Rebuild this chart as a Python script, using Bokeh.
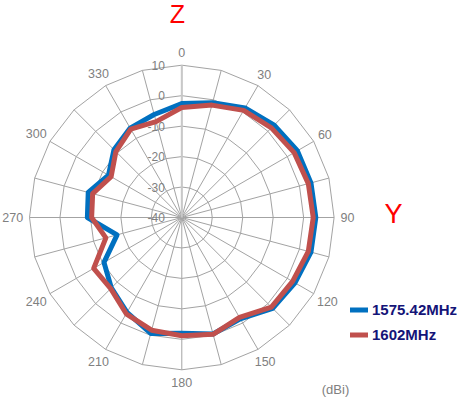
import numpy as np
from bokeh.plotting import figure
from bokeh.models import Range1d, Label, Legend, LegendItem
from bokeh.core.properties import value
from bokeh.embed import file_html
from bokeh.resources import INLINE

# ---------------- data ----------------
angles = [0, 15, 30, 45, 60, 75, 90, 105, 120, 135, 150, 165,
          180, 195, 210, 225, 240, 255, 270, 285, 300, 315, 330, 345]
gain_1575 = [-2.6, -1.0, 1.5, 2.9, 3.8, 3.9, 4.0, 3.9, 2.9, 2.2, -1.6, -0.4,
             -2.0, -0.6, -4.0, -7.3, -10.5, -18.0, -9.0, -8.2, -12.2, -8.5, -6.1, -5.0]
gain_1602 = [-3.9, -1.8, 0.6, 1.6, 2.6, 3.0, 3.15, 3.0, 2.0, 1.6, -2.1, -0.3,
             -1.2, -1.7, -3.5, -7.0, -6.6, -14.2, -10.4, -9.7, -13.2, -9.4, -6.5, -7.4]
series_names = ["1575.42MHz", "1602MHz"]
ring_values = [10, 0, -10, -20, -30]
ring_label_values = [10, 0, -10, -20, -30, -40]
ring_labels = ["10", "0", "-10", "-20", "-30", "-40"]
angle_ticks = [0, 30, 60, 90, 120, 150, 180, 210, 240, 270, 300, 330]
angle_labels = ["0", "30", "60", "90", "120", "150", "180", "210", "240", "270", "300", "330"]
R_MIN, R_MAX = -40, 10

# ---------------- layout ----------------
W, H = 457, 398
CX, CY = 181.3, 181.0          # centre of the radar, px from left / bottom
K = 152.3 / (R_MAX - R_MIN)    # px per dB

FONT_NAME = "Liberation Sans"
FONT = value(FONT_NAME)
GRID = "#a3a3a3"
TXT = "#808080"

p = figure(width=W, height=H, output_backend="svg", toolbar_location=None,
           x_range=Range1d(-CX / K, (W - CX) / K),
           y_range=Range1d(-CY / K, (H - CY) / K),
           x_axis_type=None, y_axis_type=None, min_border=0,
           outline_line_color=None)
p.background_fill_color = "white"
p.border_fill_color = "white"


def polar(vals, angs, closed=False):
    r = np.asarray(vals, dtype=float) - R_MIN
    th = np.radians(np.asarray(angs, dtype=float))
    x = r * np.sin(th)
    y = r * np.cos(th)
    if closed:
        x = np.append(x, x[0])
        y = np.append(y, y[0])
    return x, y


# rings (polygonal, Excel radar style)
ring_xs, ring_ys = [], []
for rv in ring_values:
    x, y = polar([rv] * len(angles), angles, closed=True)
    ring_xs.append(list(x))
    ring_ys.append(list(y))
p.multi_line(ring_xs, ring_ys, line_color=GRID, line_width=1)

# spokes
sx, sy = polar([R_MAX] * len(angles), angles)
p.segment(x0=[0] * len(angles), y0=[0] * len(angles), x1=sx, y1=sy,
          line_color=GRID, line_width=1)
# value axis along 0 deg
ax_x, ax_y = polar([R_MAX], [0])
p.segment(x0=[0], y0=[0], x1=ax_x, y1=ax_y, line_color="#c8c8c8", line_width=2)

# radial value labels
ly = np.asarray(ring_label_values, dtype=float) - R_MIN
p.text(x=[0] * len(ly), y=ly, text=ring_labels, x_offset=-17,
       text_align="right", text_baseline="middle",
       text_font=FONT, text_font_size="12px", text_color=TXT)

# angle labels
th = np.radians(angle_ticks)
hw = np.array([3.34 * len(s) for s in angle_labels])
r_px = 159 + hw * np.abs(np.sin(th)) + 6 * np.abs(np.cos(th)) - 3 * np.abs(np.sin(2 * th))
ax_l = r_px / K * np.sin(th)
ay_l = r_px / K * np.cos(th)
p.text(x=ax_l, y=ay_l, text=angle_labels, text_align="center", text_baseline="middle",
       text_font=FONT, text_font_size="12.5px", text_color=TXT)

# series
bx, by = polar(gain_1575, angles, closed=True)
rx, ry = polar(gain_1602, angles, closed=True)
r_blue = p.line(bx, by, line_color="#0070C0", line_width=5, line_join="round", line_cap="round")
r_red = p.line(rx, ry, line_color="#C0504D", line_width=5, line_join="round", line_cap="round")

legend = Legend(items=[LegendItem(label=series_names[0], renderers=[r_blue]),
                       LegendItem(label=series_names[1], renderers=[r_red])],
                location=(350, 53.5), orientation="vertical",
                glyph_width=18, glyph_height=21, spacing=4, padding=0, margin=0,
                label_standoff=4, label_height=21,
                label_text_font=FONT_NAME, label_text_font_size="15px",
                label_text_font_style="bold", label_text_color="#141478",
                label_text_baseline="middle",
                border_line_color=None, background_fill_alpha=0)
p.add_layout(legend)

p.add_layout(Label(x=177, y=385, x_units="screen", y_units="screen", text="Z",
                   text_align="center", text_baseline="middle", text_font=FONT_NAME,
                   text_font_size="25px", text_color="#FF0000"))
p.add_layout(Label(x=393, y=185, x_units="screen", y_units="screen", text="Y",
                   text_align="center", text_baseline="middle", text_font=FONT_NAME,
                   text_font_size="27px", text_color="#FF0000"))
p.add_layout(Label(x=335, y=9, x_units="screen", y_units="screen", text="(dBi)",
                   text_align="center", text_baseline="middle", text_font=FONT_NAME,
                   text_font_size="13px", text_color=TXT))

open("out.html", "w").write(file_html(p, INLINE))
